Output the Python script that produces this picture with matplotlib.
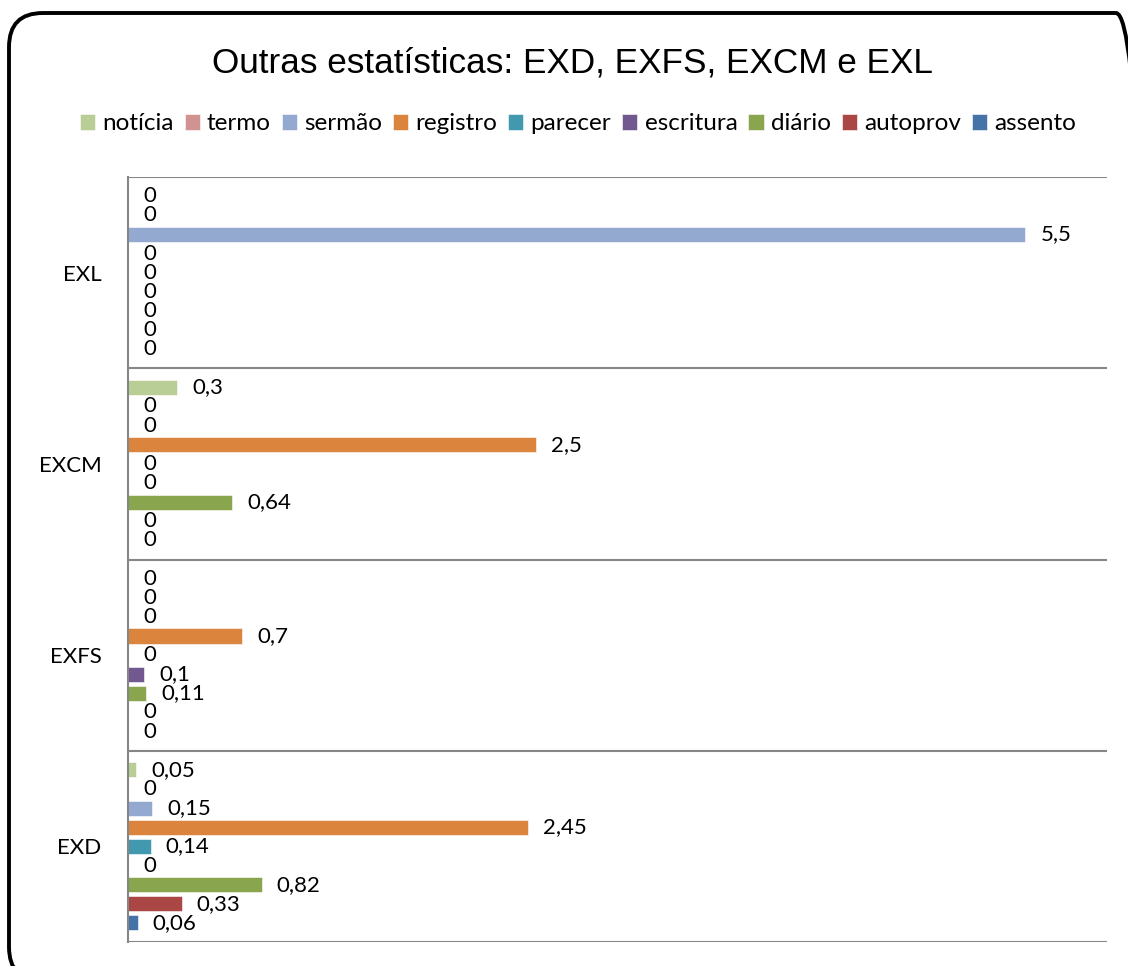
import matplotlib.pyplot as plt
import matplotlib.patches as mpatches
import matplotlib.transforms as mtransforms
import numpy as np

# ----------------- Data -----------------
categories = ["EXD", "EXFS", "EXCM", "EXL"]
series = ["assento", "autoprov", "diário", "escritura", "parecer",
          "registro", "sermão", "termo", "notícia"]
colors = ["#4572A7", "#AA4643", "#89A54E", "#71588F", "#4198AF",
          "#DB843D", "#93A9CF", "#D19392", "#B9CD96"]

assento = [0.06, 0, 0, 0]
autoprov = [0.33, 0, 0, 0]
diario = [0.82, 0.11, 0.64, 0]
escritura = [0, 0.1, 0, 0]
parecer = [0.14, 0, 0, 0]
registro = [2.45, 0.7, 2.5, 0]
sermao = [0.15, 0, 0, 5.5]
termo = [0, 0, 0, 0]
noticia = [0.05, 0, 0.3, 0]
values = [assento, autoprov, diario, escritura, parecer,
          registro, sermao, termo, noticia]

FONT = "Lato"
W, H = 1128, 966

fig = plt.figure(figsize=(W / 100, H / 100), dpi=100)
ax = fig.add_axes([128 / W, 1 - 942 / H, (1107 - 128) / W, (942 - 177) / H])

n = len(series)
slot = 0.1
bar_h = 0.079
y = np.arange(len(categories))
# pixel offset for the value labels
label_off = mtransforms.offset_copy(ax.transData, fig=fig, x=15, y=0, units="dots")

for i, (name, vals, c) in enumerate(zip(series, values, colors)):
    ypos = y + (i - (n - 1) / 2) * slot
    ax.barh(ypos, vals, height=bar_h, color=c, label=name,
            edgecolor="white", linewidth=0.4)
    for yy, v in zip(ypos, vals):
        txt = f"{v:g}".replace(".", ",")
        ax.text(v, yy, txt, transform=label_off, ha="left", va="center",
                fontsize=16, family=FONT)

ax.set_xlim(0, 6)
ax.set_ylim(-0.5, len(categories) - 0.5)
ax.set_xticks([])
ax.set_yticks(y)
ax.set_yticklabels(categories, fontsize=16, family=FONT)
ax.tick_params(axis="y", length=0, pad=19)

# category separators
for b in np.arange(-0.5, len(categories), 1.0):
    ax.axhline(b, color="#868686", lw=1.5, zorder=0)
for s in ["top", "right", "bottom"]:
    ax.spines[s].set_visible(False)
ax.spines["left"].set_color("#868686")
ax.spines["left"].set_linewidth(1.5)

fig.text(572 / W, 1 - 63 / H, "Outras estatísticas: EXD, EXFS, EXCM e EXL",
         ha="center", va="center", fontsize=25.3, family="Liberation Sans")

handles, labels = ax.get_legend_handles_labels()
fig.legend(handles[::-1], labels[::-1], loc="center", ncol=9,
           bbox_to_anchor=(578 / W, 1 - 124 / H), frameon=False,
           prop={"family": FONT, "size": 17.5}, handlelength=0.62,
           handleheight=0.62, handletextpad=0.3, columnspacing=0.45,
           borderpad=0)

# rounded outer frame, partly running off the canvas
frame = mpatches.FancyBboxPatch((9, H - 981), 1150 - 9, 981 - 13,
                                boxstyle="round,pad=0,rounding_size=34",
                                transform=mtransforms.IdentityTransform(),
                                fill=False, edgecolor="black", linewidth=2.8)
fig.patches.append(frame)

fig.savefig("out.png", dpi=100)
